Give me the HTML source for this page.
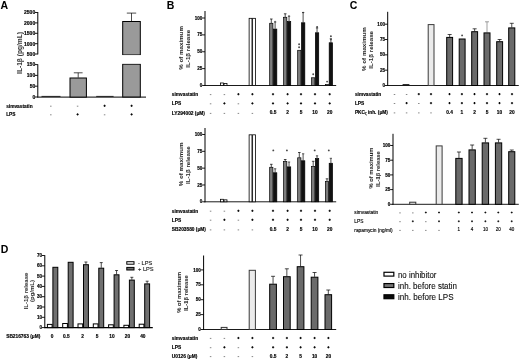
<!DOCTYPE html>
<html><head><meta charset="utf-8"><title>Figure</title>
<style>
html,body{margin:0;padding:0;background:#fff;}
body{width:520px;height:360px;overflow:hidden;font-family:'Liberation Sans', sans-serif;}
svg{display:block;font-family:"Liberation Sans",sans-serif;filter:blur(0.3px);-webkit-font-smoothing:antialiased;}
</style></head><body>
<svg width="520" height="360" viewBox="0 0 520 360">
<rect width="520" height="360" fill="#fff"/>
<text x="0.60" y="8.60" font-size="10.5" font-weight="bold" text-anchor="start" fill="#000" stroke="#000" stroke-width="0.04">A</text>
<text x="166.80" y="8.60" font-size="10.5" font-weight="bold" text-anchor="start" fill="#000" stroke="#000" stroke-width="0.04">B</text>
<text x="349.80" y="8.60" font-size="10.5" font-weight="bold" text-anchor="start" fill="#000" stroke="#000" stroke-width="0.04">C</text>
<text x="0.80" y="252.80" font-size="10.5" font-weight="bold" text-anchor="start" fill="#000" stroke="#000" stroke-width="0.04">D</text>
<line x1="37.80" y1="12.00" x2="37.80" y2="54.40" stroke="#000" stroke-width="1.0"/>
<line x1="35.00" y1="12.50" x2="37.80" y2="12.50" stroke="#000" stroke-width="0.9"/>
<text x="35.20" y="14.30" font-size="5.0" font-weight="bold" text-anchor="end" fill="#000" stroke="#000" stroke-width="0.15">2500</text>
<line x1="35.00" y1="22.90" x2="37.80" y2="22.90" stroke="#000" stroke-width="0.9"/>
<text x="35.20" y="24.70" font-size="5.0" font-weight="bold" text-anchor="end" fill="#000" stroke="#000" stroke-width="0.15">2000</text>
<line x1="35.00" y1="33.30" x2="37.80" y2="33.30" stroke="#000" stroke-width="0.9"/>
<text x="35.20" y="35.10" font-size="5.0" font-weight="bold" text-anchor="end" fill="#000" stroke="#000" stroke-width="0.15">1500</text>
<line x1="35.00" y1="43.70" x2="37.80" y2="43.70" stroke="#000" stroke-width="0.9"/>
<text x="35.20" y="45.50" font-size="5.0" font-weight="bold" text-anchor="end" fill="#000" stroke="#000" stroke-width="0.15">1000</text>
<line x1="35.00" y1="54.00" x2="37.80" y2="54.00" stroke="#000" stroke-width="0.9"/>
<text x="35.20" y="55.80" font-size="5.0" font-weight="bold" text-anchor="end" fill="#000" stroke="#000" stroke-width="0.15">500</text>
<line x1="37.80" y1="64.30" x2="37.80" y2="97.40" stroke="#000" stroke-width="1.0"/>
<line x1="35.00" y1="64.60" x2="37.80" y2="64.60" stroke="#000" stroke-width="0.9"/>
<text x="35.20" y="66.40" font-size="5.0" font-weight="bold" text-anchor="end" fill="#000" stroke="#000" stroke-width="0.15">150</text>
<line x1="35.00" y1="75.40" x2="37.80" y2="75.40" stroke="#000" stroke-width="0.9"/>
<text x="35.20" y="77.20" font-size="5.0" font-weight="bold" text-anchor="end" fill="#000" stroke="#000" stroke-width="0.15">100</text>
<line x1="35.00" y1="86.20" x2="37.80" y2="86.20" stroke="#000" stroke-width="0.9"/>
<text x="35.20" y="88.00" font-size="5.0" font-weight="bold" text-anchor="end" fill="#000" stroke="#000" stroke-width="0.15">50</text>
<line x1="35.00" y1="97.00" x2="37.80" y2="97.00" stroke="#000" stroke-width="0.9"/>
<text x="35.20" y="98.80" font-size="5.0" font-weight="bold" text-anchor="end" fill="#000" stroke="#000" stroke-width="0.15">0</text>
<line x1="37.30" y1="97.10" x2="146.00" y2="97.10" stroke="#000" stroke-width="1.0"/>
<line x1="41.50" y1="96.40" x2="60.50" y2="96.40" stroke="#000" stroke-width="0.8"/>
<line x1="78.20" y1="77.60" x2="78.20" y2="72.80" stroke="#000" stroke-width="0.7"/>
<line x1="73.80" y1="72.80" x2="82.60" y2="72.80" stroke="#000" stroke-width="0.7"/>
<rect x="70.00" y="78.00" width="16.40" height="19.10" fill="#9a9a9a" stroke="#000" stroke-width="1.0"/>
<line x1="96.20" y1="96.40" x2="113.60" y2="96.40" stroke="#000" stroke-width="0.8"/>
<line x1="131.50" y1="21.00" x2="131.50" y2="13.10" stroke="#000" stroke-width="0.7"/>
<line x1="126.80" y1="13.10" x2="136.20" y2="13.10" stroke="#000" stroke-width="0.7"/>
<rect x="122.70" y="21.50" width="17.60" height="33.50" fill="#9a9a9a" stroke="#000" stroke-width="1.0"/>
<rect x="122.70" y="64.20" width="17.60" height="32.80" fill="#9a9a9a" stroke="#000" stroke-width="1.0"/>
<rect x="121.5" y="55.1" width="20" height="8.5" fill="#fff"/>
<text x="21.60" y="53.00" font-size="6.6" font-weight="bold" text-anchor="middle" fill="#3a3a3a" stroke="#3a3a3a" stroke-width="0.04" transform="rotate(-90 21.60 53.00)">IL-1β (pg/mL)</text>
<text x="6.20" y="107.50" font-size="4.8" font-weight="bold" text-anchor="start" fill="#000" stroke="#000" stroke-width="0.15">simvastatin</text>
<line x1="50.05" y1="106.20" x2="51.55" y2="106.20" stroke="#555" stroke-width="0.7"/>
<line x1="76.85" y1="106.20" x2="78.35" y2="106.20" stroke="#555" stroke-width="0.7"/>
<line x1="103.50" y1="105.80" x2="105.70" y2="105.80" stroke="#000" stroke-width="0.95"/>
<line x1="104.60" y1="104.70" x2="104.60" y2="106.90" stroke="#000" stroke-width="0.95"/>
<line x1="130.50" y1="105.80" x2="132.70" y2="105.80" stroke="#000" stroke-width="0.95"/>
<line x1="131.60" y1="104.70" x2="131.60" y2="106.90" stroke="#000" stroke-width="0.95"/>
<text x="6.20" y="116.10" font-size="4.8" font-weight="bold" text-anchor="start" fill="#000" stroke="#000" stroke-width="0.15">LPS</text>
<line x1="50.05" y1="114.80" x2="51.55" y2="114.80" stroke="#555" stroke-width="0.7"/>
<line x1="76.50" y1="114.40" x2="78.70" y2="114.40" stroke="#000" stroke-width="0.95"/>
<line x1="77.60" y1="113.30" x2="77.60" y2="115.50" stroke="#000" stroke-width="0.95"/>
<line x1="103.85" y1="114.80" x2="105.35" y2="114.80" stroke="#555" stroke-width="0.7"/>
<line x1="130.50" y1="114.40" x2="132.70" y2="114.40" stroke="#000" stroke-width="0.95"/>
<line x1="131.60" y1="113.30" x2="131.60" y2="115.50" stroke="#000" stroke-width="0.95"/>
<line x1="205.00" y1="11.00" x2="205.00" y2="86.00" stroke="#000" stroke-width="1.0"/>
<line x1="202.20" y1="18.00" x2="205.00" y2="18.00" stroke="#000" stroke-width="0.9"/>
<text x="202.30" y="19.60" font-size="4.6" font-weight="bold" text-anchor="end" fill="#000" stroke="#000" stroke-width="0.15">100</text>
<line x1="202.20" y1="34.88" x2="205.00" y2="34.88" stroke="#000" stroke-width="0.9"/>
<text x="202.30" y="36.48" font-size="4.6" font-weight="bold" text-anchor="end" fill="#000" stroke="#000" stroke-width="0.15">75</text>
<line x1="202.20" y1="51.75" x2="205.00" y2="51.75" stroke="#000" stroke-width="0.9"/>
<text x="202.30" y="53.35" font-size="4.6" font-weight="bold" text-anchor="end" fill="#000" stroke="#000" stroke-width="0.15">50</text>
<line x1="202.20" y1="68.62" x2="205.00" y2="68.62" stroke="#000" stroke-width="0.9"/>
<text x="202.30" y="70.22" font-size="4.6" font-weight="bold" text-anchor="end" fill="#000" stroke="#000" stroke-width="0.15">25</text>
<line x1="202.20" y1="85.50" x2="205.00" y2="85.50" stroke="#000" stroke-width="0.9"/>
<text x="202.30" y="87.10" font-size="4.6" font-weight="bold" text-anchor="end" fill="#000" stroke="#000" stroke-width="0.15">0</text>
<line x1="204.60" y1="85.50" x2="336.20" y2="85.50" stroke="#000" stroke-width="0.9"/>
<rect x="220.52" y="82.98" width="2.86" height="2.52" fill="#fff" stroke="#000" stroke-width="0.8"/>
<rect x="224.02" y="83.52" width="2.96" height="1.98" fill="#fff" stroke="#000" stroke-width="0.8"/>
<rect x="249.12" y="18.32" width="2.86" height="67.18" fill="#fff" stroke="#000" stroke-width="0.8"/>
<rect x="252.62" y="18.32" width="2.86" height="67.18" fill="#fff" stroke="#000" stroke-width="0.8"/>
<line x1="271.30" y1="23.00" x2="271.30" y2="19.00" stroke="#000" stroke-width="0.7"/>
<line x1="270.00" y1="19.00" x2="272.60" y2="19.00" stroke="#000" stroke-width="0.7"/>
<rect x="269.68" y="23.28" width="3.24" height="62.22" fill="#7d7d7d" stroke="#000" stroke-width="0.7"/>
<line x1="275.15" y1="28.80" x2="275.15" y2="22.00" stroke="#8a8a8a" stroke-width="1.5"/>
<line x1="274.00" y1="22.00" x2="276.30" y2="22.00" stroke="#333" stroke-width="0.8"/>
<rect x="273.48" y="29.08" width="3.34" height="56.42" fill="#111" stroke="#000" stroke-width="0.7"/>
<line x1="285.20" y1="17.00" x2="285.20" y2="13.80" stroke="#000" stroke-width="0.7"/>
<line x1="283.90" y1="13.80" x2="286.50" y2="13.80" stroke="#000" stroke-width="0.7"/>
<rect x="283.58" y="17.28" width="3.24" height="68.22" fill="#7d7d7d" stroke="#000" stroke-width="0.7"/>
<line x1="289.05" y1="21.30" x2="289.05" y2="16.30" stroke="#8a8a8a" stroke-width="1.5"/>
<line x1="287.90" y1="16.30" x2="290.20" y2="16.30" stroke="#333" stroke-width="0.8"/>
<rect x="287.38" y="21.58" width="3.34" height="63.92" fill="#111" stroke="#000" stroke-width="0.7"/>
<rect x="297.68" y="50.28" width="3.24" height="35.22" fill="#7d7d7d" stroke="#000" stroke-width="0.7"/>
<line x1="303.15" y1="22.50" x2="303.15" y2="12.50" stroke="#8a8a8a" stroke-width="1.5"/>
<line x1="302.00" y1="12.50" x2="304.30" y2="12.50" stroke="#333" stroke-width="0.8"/>
<rect x="301.48" y="22.78" width="3.34" height="62.72" fill="#111" stroke="#000" stroke-width="0.7"/>
<rect x="311.58" y="77.78" width="3.24" height="7.72" fill="#7d7d7d" stroke="#000" stroke-width="0.7"/>
<line x1="317.05" y1="32.50" x2="317.05" y2="28.00" stroke="#8a8a8a" stroke-width="1.5"/>
<line x1="315.90" y1="28.00" x2="318.20" y2="28.00" stroke="#333" stroke-width="0.8"/>
<rect x="315.38" y="32.78" width="3.34" height="52.72" fill="#111" stroke="#000" stroke-width="0.7"/>
<rect x="325.38" y="84.58" width="3.24" height="0.92" fill="#7d7d7d" stroke="#000" stroke-width="0.7"/>
<line x1="330.85" y1="42.50" x2="330.85" y2="38.80" stroke="#8a8a8a" stroke-width="1.5"/>
<line x1="329.70" y1="38.80" x2="332.00" y2="38.80" stroke="#333" stroke-width="0.8"/>
<rect x="329.18" y="42.78" width="3.34" height="42.72" fill="#111" stroke="#000" stroke-width="0.7"/>
<circle cx="299.10" cy="44.20" r="0.95" fill="#4a4a4a"/>
<circle cx="299.10" cy="47.30" r="0.95" fill="#4a4a4a"/>
<circle cx="313.20" cy="74.20" r="0.95" fill="#4a4a4a"/>
<circle cx="327.10" cy="81.60" r="0.95" fill="#4a4a4a"/>
<circle cx="303.10" cy="12.60" r="0.8" fill="#333"/>
<circle cx="317.10" cy="27.00" r="0.9" fill="#333"/>
<circle cx="330.90" cy="36.30" r="0.95" fill="#4a4a4a"/>
<circle cx="330.90" cy="39.40" r="0.95" fill="#4a4a4a"/>
<circle cx="275.10" cy="21.60" r="0.8" fill="#555"/>
<circle cx="289.00" cy="16.00" r="0.8" fill="#555"/>
<text x="182.90" y="47.95" font-size="6.2" font-weight="bold" text-anchor="middle" fill="#2a2a2a" stroke="#2a2a2a" stroke-width="0.04" transform="rotate(-90 182.90 47.95)">% of maximum</text>
<text x="190.00" y="48.75" font-size="6.2" font-weight="bold" text-anchor="middle" fill="#2a2a2a" stroke="#2a2a2a" stroke-width="0.04" transform="rotate(-90 190.00 48.75)">IL-1β release</text>
<text x="171.80" y="95.90" font-size="4.8" font-weight="bold" text-anchor="start" fill="#000" stroke="#000" stroke-width="0.15">simvastatin</text>
<line x1="209.85" y1="94.60" x2="211.35" y2="94.60" stroke="#555" stroke-width="0.7"/>
<line x1="223.65" y1="94.60" x2="225.15" y2="94.60" stroke="#555" stroke-width="0.7"/>
<line x1="237.30" y1="94.20" x2="239.50" y2="94.20" stroke="#000" stroke-width="0.95"/>
<line x1="238.40" y1="93.10" x2="238.40" y2="95.30" stroke="#000" stroke-width="0.95"/>
<line x1="251.30" y1="94.20" x2="253.50" y2="94.20" stroke="#000" stroke-width="0.95"/>
<line x1="252.40" y1="93.10" x2="252.40" y2="95.30" stroke="#000" stroke-width="0.95"/>
<line x1="271.90" y1="94.20" x2="274.10" y2="94.20" stroke="#000" stroke-width="0.95"/>
<line x1="273.00" y1="93.10" x2="273.00" y2="95.30" stroke="#000" stroke-width="0.95"/>
<line x1="286.50" y1="94.20" x2="288.70" y2="94.20" stroke="#000" stroke-width="0.95"/>
<line x1="287.60" y1="93.10" x2="287.60" y2="95.30" stroke="#000" stroke-width="0.95"/>
<line x1="299.90" y1="94.20" x2="302.10" y2="94.20" stroke="#000" stroke-width="0.95"/>
<line x1="301.00" y1="93.10" x2="301.00" y2="95.30" stroke="#000" stroke-width="0.95"/>
<line x1="313.90" y1="94.20" x2="316.10" y2="94.20" stroke="#000" stroke-width="0.95"/>
<line x1="315.00" y1="93.10" x2="315.00" y2="95.30" stroke="#000" stroke-width="0.95"/>
<line x1="328.60" y1="94.20" x2="330.80" y2="94.20" stroke="#000" stroke-width="0.95"/>
<line x1="329.70" y1="93.10" x2="329.70" y2="95.30" stroke="#000" stroke-width="0.95"/>
<text x="171.80" y="105.10" font-size="4.8" font-weight="bold" text-anchor="start" fill="#000" stroke="#000" stroke-width="0.15">LPS</text>
<line x1="209.85" y1="103.80" x2="211.35" y2="103.80" stroke="#555" stroke-width="0.7"/>
<line x1="223.30" y1="103.40" x2="225.50" y2="103.40" stroke="#000" stroke-width="0.95"/>
<line x1="224.40" y1="102.30" x2="224.40" y2="104.50" stroke="#000" stroke-width="0.95"/>
<line x1="237.65" y1="103.80" x2="239.15" y2="103.80" stroke="#555" stroke-width="0.7"/>
<line x1="251.30" y1="103.40" x2="253.50" y2="103.40" stroke="#000" stroke-width="0.95"/>
<line x1="252.40" y1="102.30" x2="252.40" y2="104.50" stroke="#000" stroke-width="0.95"/>
<line x1="271.90" y1="103.40" x2="274.10" y2="103.40" stroke="#000" stroke-width="0.95"/>
<line x1="273.00" y1="102.30" x2="273.00" y2="104.50" stroke="#000" stroke-width="0.95"/>
<line x1="286.50" y1="103.40" x2="288.70" y2="103.40" stroke="#000" stroke-width="0.95"/>
<line x1="287.60" y1="102.30" x2="287.60" y2="104.50" stroke="#000" stroke-width="0.95"/>
<line x1="299.90" y1="103.40" x2="302.10" y2="103.40" stroke="#000" stroke-width="0.95"/>
<line x1="301.00" y1="102.30" x2="301.00" y2="104.50" stroke="#000" stroke-width="0.95"/>
<line x1="313.90" y1="103.40" x2="316.10" y2="103.40" stroke="#000" stroke-width="0.95"/>
<line x1="315.00" y1="102.30" x2="315.00" y2="104.50" stroke="#000" stroke-width="0.95"/>
<line x1="328.60" y1="103.40" x2="330.80" y2="103.40" stroke="#000" stroke-width="0.95"/>
<line x1="329.70" y1="102.30" x2="329.70" y2="104.50" stroke="#000" stroke-width="0.95"/>
<text x="171.80" y="114.70" font-size="4.8" font-weight="bold" text-anchor="start" fill="#000" stroke="#000" stroke-width="0.15">LY294002 (μM)</text>
<line x1="209.85" y1="113.40" x2="211.35" y2="113.40" stroke="#555" stroke-width="0.7"/>
<line x1="223.65" y1="113.40" x2="225.15" y2="113.40" stroke="#555" stroke-width="0.7"/>
<line x1="237.65" y1="113.40" x2="239.15" y2="113.40" stroke="#555" stroke-width="0.7"/>
<line x1="251.65" y1="113.40" x2="253.15" y2="113.40" stroke="#555" stroke-width="0.7"/>
<text x="273.00" y="114.20" font-size="4.8" font-weight="bold" text-anchor="middle" fill="#000" stroke="#000" stroke-width="0.15">0.5</text>
<text x="287.60" y="114.20" font-size="4.8" font-weight="bold" text-anchor="middle" fill="#000" stroke="#000" stroke-width="0.15">2</text>
<text x="301.00" y="114.20" font-size="4.8" font-weight="bold" text-anchor="middle" fill="#000" stroke="#000" stroke-width="0.15">5</text>
<text x="315.00" y="114.20" font-size="4.8" font-weight="bold" text-anchor="middle" fill="#000" stroke="#000" stroke-width="0.15">10</text>
<text x="329.70" y="114.20" font-size="4.8" font-weight="bold" text-anchor="middle" fill="#000" stroke="#000" stroke-width="0.15">20</text>
<line x1="205.00" y1="128.00" x2="205.00" y2="202.30" stroke="#000" stroke-width="1.0"/>
<line x1="202.20" y1="134.50" x2="205.00" y2="134.50" stroke="#000" stroke-width="0.9"/>
<text x="202.30" y="136.10" font-size="4.6" font-weight="bold" text-anchor="end" fill="#000" stroke="#000" stroke-width="0.15">100</text>
<line x1="202.20" y1="151.32" x2="205.00" y2="151.32" stroke="#000" stroke-width="0.9"/>
<text x="202.30" y="152.92" font-size="4.6" font-weight="bold" text-anchor="end" fill="#000" stroke="#000" stroke-width="0.15">75</text>
<line x1="202.20" y1="168.15" x2="205.00" y2="168.15" stroke="#000" stroke-width="0.9"/>
<text x="202.30" y="169.75" font-size="4.6" font-weight="bold" text-anchor="end" fill="#000" stroke="#000" stroke-width="0.15">50</text>
<line x1="202.20" y1="184.98" x2="205.00" y2="184.98" stroke="#000" stroke-width="0.9"/>
<text x="202.30" y="186.58" font-size="4.6" font-weight="bold" text-anchor="end" fill="#000" stroke="#000" stroke-width="0.15">25</text>
<line x1="202.20" y1="201.80" x2="205.00" y2="201.80" stroke="#000" stroke-width="0.9"/>
<text x="202.30" y="203.40" font-size="4.6" font-weight="bold" text-anchor="end" fill="#000" stroke="#000" stroke-width="0.15">0</text>
<line x1="204.60" y1="201.80" x2="336.20" y2="201.80" stroke="#000" stroke-width="0.9"/>
<rect x="220.52" y="199.29" width="2.86" height="2.51" fill="#fff" stroke="#000" stroke-width="0.8"/>
<rect x="224.02" y="199.83" width="2.96" height="1.97" fill="#fff" stroke="#000" stroke-width="0.8"/>
<rect x="249.12" y="134.82" width="2.86" height="66.98" fill="#fff" stroke="#000" stroke-width="0.8"/>
<rect x="252.62" y="134.82" width="2.86" height="66.98" fill="#fff" stroke="#000" stroke-width="0.8"/>
<line x1="271.30" y1="167.00" x2="271.30" y2="164.30" stroke="#000" stroke-width="0.7"/>
<line x1="270.00" y1="164.30" x2="272.60" y2="164.30" stroke="#000" stroke-width="0.7"/>
<rect x="269.68" y="167.28" width="3.24" height="34.52" fill="#7d7d7d" stroke="#000" stroke-width="0.7"/>
<line x1="275.15" y1="172.50" x2="275.15" y2="168.80" stroke="#8a8a8a" stroke-width="1.5"/>
<line x1="274.00" y1="168.80" x2="276.30" y2="168.80" stroke="#333" stroke-width="0.8"/>
<rect x="273.48" y="172.78" width="3.34" height="29.02" fill="#111" stroke="#000" stroke-width="0.7"/>
<line x1="285.20" y1="161.30" x2="285.20" y2="159.50" stroke="#000" stroke-width="0.7"/>
<line x1="283.90" y1="159.50" x2="286.50" y2="159.50" stroke="#000" stroke-width="0.7"/>
<rect x="283.58" y="161.58" width="3.24" height="40.22" fill="#7d7d7d" stroke="#000" stroke-width="0.7"/>
<line x1="289.05" y1="166.60" x2="289.05" y2="162.00" stroke="#8a8a8a" stroke-width="1.5"/>
<line x1="287.90" y1="162.00" x2="290.20" y2="162.00" stroke="#333" stroke-width="0.8"/>
<rect x="287.38" y="166.88" width="3.34" height="34.92" fill="#111" stroke="#000" stroke-width="0.7"/>
<line x1="299.30" y1="157.50" x2="299.30" y2="152.50" stroke="#000" stroke-width="0.7"/>
<line x1="298.00" y1="152.50" x2="300.60" y2="152.50" stroke="#000" stroke-width="0.7"/>
<rect x="297.68" y="157.78" width="3.24" height="44.02" fill="#7d7d7d" stroke="#000" stroke-width="0.7"/>
<line x1="303.15" y1="160.50" x2="303.15" y2="153.80" stroke="#8a8a8a" stroke-width="1.5"/>
<line x1="302.00" y1="153.80" x2="304.30" y2="153.80" stroke="#333" stroke-width="0.8"/>
<rect x="301.48" y="160.78" width="3.34" height="41.02" fill="#111" stroke="#000" stroke-width="0.7"/>
<line x1="313.20" y1="166.30" x2="313.20" y2="161.30" stroke="#000" stroke-width="0.7"/>
<line x1="311.90" y1="161.30" x2="314.50" y2="161.30" stroke="#000" stroke-width="0.7"/>
<rect x="311.58" y="166.58" width="3.24" height="35.22" fill="#7d7d7d" stroke="#000" stroke-width="0.7"/>
<line x1="317.05" y1="158.30" x2="317.05" y2="155.80" stroke="#8a8a8a" stroke-width="1.5"/>
<line x1="315.90" y1="155.80" x2="318.20" y2="155.80" stroke="#333" stroke-width="0.8"/>
<rect x="315.38" y="158.58" width="3.34" height="43.22" fill="#111" stroke="#000" stroke-width="0.7"/>
<line x1="327.00" y1="181.30" x2="327.00" y2="178.80" stroke="#000" stroke-width="0.7"/>
<line x1="325.70" y1="178.80" x2="328.30" y2="178.80" stroke="#000" stroke-width="0.7"/>
<rect x="325.38" y="181.58" width="3.24" height="20.22" fill="#7d7d7d" stroke="#000" stroke-width="0.7"/>
<line x1="330.85" y1="163.00" x2="330.85" y2="158.30" stroke="#8a8a8a" stroke-width="1.5"/>
<line x1="329.70" y1="158.30" x2="332.00" y2="158.30" stroke="#333" stroke-width="0.8"/>
<rect x="329.18" y="163.28" width="3.34" height="38.52" fill="#111" stroke="#000" stroke-width="0.7"/>
<circle cx="273.30" cy="150.40" r="0.95" fill="#4a4a4a"/>
<circle cx="286.90" cy="150.40" r="0.95" fill="#4a4a4a"/>
<circle cx="314.70" cy="150.40" r="0.95" fill="#4a4a4a"/>
<circle cx="328.80" cy="150.40" r="0.95" fill="#4a4a4a"/>
<text x="182.90" y="164.35" font-size="6.2" font-weight="bold" text-anchor="middle" fill="#2a2a2a" stroke="#2a2a2a" stroke-width="0.04" transform="rotate(-90 182.90 164.35)">% of maximum</text>
<text x="190.00" y="165.15" font-size="6.2" font-weight="bold" text-anchor="middle" fill="#2a2a2a" stroke="#2a2a2a" stroke-width="0.04" transform="rotate(-90 190.00 165.15)">IL-1β release</text>
<text x="171.80" y="212.50" font-size="4.8" font-weight="bold" text-anchor="start" fill="#000" stroke="#000" stroke-width="0.15">simvastatin</text>
<line x1="209.85" y1="211.20" x2="211.35" y2="211.20" stroke="#555" stroke-width="0.7"/>
<line x1="223.65" y1="211.20" x2="225.15" y2="211.20" stroke="#555" stroke-width="0.7"/>
<line x1="237.30" y1="210.80" x2="239.50" y2="210.80" stroke="#000" stroke-width="0.95"/>
<line x1="238.40" y1="209.70" x2="238.40" y2="211.90" stroke="#000" stroke-width="0.95"/>
<line x1="251.30" y1="210.80" x2="253.50" y2="210.80" stroke="#000" stroke-width="0.95"/>
<line x1="252.40" y1="209.70" x2="252.40" y2="211.90" stroke="#000" stroke-width="0.95"/>
<line x1="271.90" y1="210.80" x2="274.10" y2="210.80" stroke="#000" stroke-width="0.95"/>
<line x1="273.00" y1="209.70" x2="273.00" y2="211.90" stroke="#000" stroke-width="0.95"/>
<line x1="286.50" y1="210.80" x2="288.70" y2="210.80" stroke="#000" stroke-width="0.95"/>
<line x1="287.60" y1="209.70" x2="287.60" y2="211.90" stroke="#000" stroke-width="0.95"/>
<line x1="299.90" y1="210.80" x2="302.10" y2="210.80" stroke="#000" stroke-width="0.95"/>
<line x1="301.00" y1="209.70" x2="301.00" y2="211.90" stroke="#000" stroke-width="0.95"/>
<line x1="313.90" y1="210.80" x2="316.10" y2="210.80" stroke="#000" stroke-width="0.95"/>
<line x1="315.00" y1="209.70" x2="315.00" y2="211.90" stroke="#000" stroke-width="0.95"/>
<line x1="328.60" y1="210.80" x2="330.80" y2="210.80" stroke="#000" stroke-width="0.95"/>
<line x1="329.70" y1="209.70" x2="329.70" y2="211.90" stroke="#000" stroke-width="0.95"/>
<text x="171.80" y="221.50" font-size="4.8" font-weight="bold" text-anchor="start" fill="#000" stroke="#000" stroke-width="0.15">LPS</text>
<line x1="209.85" y1="220.20" x2="211.35" y2="220.20" stroke="#555" stroke-width="0.7"/>
<line x1="223.30" y1="219.80" x2="225.50" y2="219.80" stroke="#000" stroke-width="0.95"/>
<line x1="224.40" y1="218.70" x2="224.40" y2="220.90" stroke="#000" stroke-width="0.95"/>
<line x1="237.65" y1="220.20" x2="239.15" y2="220.20" stroke="#555" stroke-width="0.7"/>
<line x1="251.30" y1="219.80" x2="253.50" y2="219.80" stroke="#000" stroke-width="0.95"/>
<line x1="252.40" y1="218.70" x2="252.40" y2="220.90" stroke="#000" stroke-width="0.95"/>
<line x1="271.90" y1="219.80" x2="274.10" y2="219.80" stroke="#000" stroke-width="0.95"/>
<line x1="273.00" y1="218.70" x2="273.00" y2="220.90" stroke="#000" stroke-width="0.95"/>
<line x1="286.50" y1="219.80" x2="288.70" y2="219.80" stroke="#000" stroke-width="0.95"/>
<line x1="287.60" y1="218.70" x2="287.60" y2="220.90" stroke="#000" stroke-width="0.95"/>
<line x1="299.90" y1="219.80" x2="302.10" y2="219.80" stroke="#000" stroke-width="0.95"/>
<line x1="301.00" y1="218.70" x2="301.00" y2="220.90" stroke="#000" stroke-width="0.95"/>
<line x1="313.90" y1="219.80" x2="316.10" y2="219.80" stroke="#000" stroke-width="0.95"/>
<line x1="315.00" y1="218.70" x2="315.00" y2="220.90" stroke="#000" stroke-width="0.95"/>
<line x1="328.60" y1="219.80" x2="330.80" y2="219.80" stroke="#000" stroke-width="0.95"/>
<line x1="329.70" y1="218.70" x2="329.70" y2="220.90" stroke="#000" stroke-width="0.95"/>
<text x="171.80" y="231.20" font-size="4.8" font-weight="bold" text-anchor="start" fill="#000" stroke="#000" stroke-width="0.15">SB203580 (μM)</text>
<line x1="209.85" y1="229.90" x2="211.35" y2="229.90" stroke="#555" stroke-width="0.7"/>
<line x1="223.65" y1="229.90" x2="225.15" y2="229.90" stroke="#555" stroke-width="0.7"/>
<line x1="237.65" y1="229.90" x2="239.15" y2="229.90" stroke="#555" stroke-width="0.7"/>
<line x1="251.65" y1="229.90" x2="253.15" y2="229.90" stroke="#555" stroke-width="0.7"/>
<text x="273.00" y="230.70" font-size="4.8" font-weight="bold" text-anchor="middle" fill="#000" stroke="#000" stroke-width="0.15">0.5</text>
<text x="287.60" y="230.70" font-size="4.8" font-weight="bold" text-anchor="middle" fill="#000" stroke="#000" stroke-width="0.15">2</text>
<text x="301.00" y="230.70" font-size="4.8" font-weight="bold" text-anchor="middle" fill="#000" stroke="#000" stroke-width="0.15">5</text>
<text x="315.00" y="230.70" font-size="4.8" font-weight="bold" text-anchor="middle" fill="#000" stroke="#000" stroke-width="0.15">10</text>
<text x="329.70" y="230.70" font-size="4.8" font-weight="bold" text-anchor="middle" fill="#000" stroke="#000" stroke-width="0.15">20</text>
<line x1="203.60" y1="255.50" x2="203.60" y2="330.00" stroke="#000" stroke-width="1.0"/>
<line x1="200.80" y1="269.90" x2="203.60" y2="269.90" stroke="#000" stroke-width="0.9"/>
<text x="200.90" y="271.50" font-size="4.6" font-weight="bold" text-anchor="end" fill="#000" stroke="#000" stroke-width="0.15">100</text>
<line x1="200.80" y1="284.80" x2="203.60" y2="284.80" stroke="#000" stroke-width="0.9"/>
<text x="200.90" y="286.40" font-size="4.6" font-weight="bold" text-anchor="end" fill="#000" stroke="#000" stroke-width="0.15">75</text>
<line x1="200.80" y1="299.70" x2="203.60" y2="299.70" stroke="#000" stroke-width="0.9"/>
<text x="200.90" y="301.30" font-size="4.6" font-weight="bold" text-anchor="end" fill="#000" stroke="#000" stroke-width="0.15">50</text>
<line x1="200.80" y1="314.60" x2="203.60" y2="314.60" stroke="#000" stroke-width="0.9"/>
<text x="200.90" y="316.20" font-size="4.6" font-weight="bold" text-anchor="end" fill="#000" stroke="#000" stroke-width="0.15">25</text>
<line x1="200.80" y1="329.50" x2="203.60" y2="329.50" stroke="#000" stroke-width="0.9"/>
<text x="200.90" y="331.10" font-size="4.6" font-weight="bold" text-anchor="end" fill="#000" stroke="#000" stroke-width="0.15">0</text>
<line x1="203.20" y1="329.50" x2="336.20" y2="329.50" stroke="#000" stroke-width="0.9"/>
<rect x="221.20" y="327.40" width="5.80" height="2.10" fill="#ececec" stroke="#333" stroke-width="1.0"/>
<rect x="249.20" y="270.30" width="6.20" height="59.20" fill="#ebebeb" stroke="#3a3a3a" stroke-width="1.0"/>
<line x1="273.05" y1="283.80" x2="273.05" y2="276.30" stroke="#000" stroke-width="0.7"/>
<line x1="271.05" y1="276.30" x2="275.05" y2="276.30" stroke="#000" stroke-width="0.7"/>
<rect x="269.70" y="284.20" width="6.70" height="45.30" fill="#6a6a6a" stroke="#000" stroke-width="1.0"/>
<line x1="286.85" y1="276.30" x2="286.85" y2="268.80" stroke="#000" stroke-width="0.7"/>
<line x1="284.85" y1="268.80" x2="288.85" y2="268.80" stroke="#000" stroke-width="0.7"/>
<rect x="283.50" y="276.70" width="6.70" height="52.80" fill="#6a6a6a" stroke="#000" stroke-width="1.0"/>
<line x1="300.55" y1="266.30" x2="300.55" y2="255.00" stroke="#000" stroke-width="0.7"/>
<line x1="298.55" y1="255.00" x2="302.55" y2="255.00" stroke="#000" stroke-width="0.7"/>
<rect x="297.20" y="266.70" width="6.70" height="62.80" fill="#6a6a6a" stroke="#000" stroke-width="1.0"/>
<line x1="314.55" y1="276.80" x2="314.55" y2="272.50" stroke="#000" stroke-width="0.7"/>
<line x1="312.55" y1="272.50" x2="316.55" y2="272.50" stroke="#000" stroke-width="0.7"/>
<rect x="311.20" y="277.20" width="6.70" height="52.30" fill="#6a6a6a" stroke="#000" stroke-width="1.0"/>
<line x1="328.30" y1="294.30" x2="328.30" y2="290.00" stroke="#000" stroke-width="0.7"/>
<line x1="326.30" y1="290.00" x2="330.30" y2="290.00" stroke="#000" stroke-width="0.7"/>
<rect x="325.00" y="294.70" width="6.60" height="34.80" fill="#6a6a6a" stroke="#000" stroke-width="1.0"/>
<text x="181.40" y="292.30" font-size="5.8" font-weight="bold" text-anchor="middle" fill="#2a2a2a" stroke="#2a2a2a" stroke-width="0.04" transform="rotate(-90 181.40 292.30)">% of maximum</text>
<text x="188.50" y="293.10" font-size="5.8" font-weight="bold" text-anchor="middle" fill="#2a2a2a" stroke="#2a2a2a" stroke-width="0.04" transform="rotate(-90 188.50 293.10)">IL-1β release</text>
<text x="171.80" y="339.70" font-size="4.8" font-weight="bold" text-anchor="start" fill="#000" stroke="#000" stroke-width="0.15">simvastatin</text>
<line x1="209.85" y1="338.40" x2="211.35" y2="338.40" stroke="#555" stroke-width="0.7"/>
<line x1="223.65" y1="338.40" x2="225.15" y2="338.40" stroke="#555" stroke-width="0.7"/>
<line x1="237.30" y1="338.00" x2="239.50" y2="338.00" stroke="#000" stroke-width="0.95"/>
<line x1="238.40" y1="336.90" x2="238.40" y2="339.10" stroke="#000" stroke-width="0.95"/>
<line x1="251.30" y1="338.00" x2="253.50" y2="338.00" stroke="#000" stroke-width="0.95"/>
<line x1="252.40" y1="336.90" x2="252.40" y2="339.10" stroke="#000" stroke-width="0.95"/>
<line x1="272.00" y1="338.00" x2="274.20" y2="338.00" stroke="#000" stroke-width="0.95"/>
<line x1="273.10" y1="336.90" x2="273.10" y2="339.10" stroke="#000" stroke-width="0.95"/>
<line x1="285.80" y1="338.00" x2="288.00" y2="338.00" stroke="#000" stroke-width="0.95"/>
<line x1="286.90" y1="336.90" x2="286.90" y2="339.10" stroke="#000" stroke-width="0.95"/>
<line x1="299.50" y1="338.00" x2="301.70" y2="338.00" stroke="#000" stroke-width="0.95"/>
<line x1="300.60" y1="336.90" x2="300.60" y2="339.10" stroke="#000" stroke-width="0.95"/>
<line x1="313.50" y1="338.00" x2="315.70" y2="338.00" stroke="#000" stroke-width="0.95"/>
<line x1="314.60" y1="336.90" x2="314.60" y2="339.10" stroke="#000" stroke-width="0.95"/>
<line x1="327.30" y1="338.00" x2="329.50" y2="338.00" stroke="#000" stroke-width="0.95"/>
<line x1="328.40" y1="336.90" x2="328.40" y2="339.10" stroke="#000" stroke-width="0.95"/>
<text x="171.80" y="349.00" font-size="4.8" font-weight="bold" text-anchor="start" fill="#000" stroke="#000" stroke-width="0.15">LPS</text>
<line x1="209.85" y1="347.70" x2="211.35" y2="347.70" stroke="#555" stroke-width="0.7"/>
<line x1="223.30" y1="347.30" x2="225.50" y2="347.30" stroke="#000" stroke-width="0.95"/>
<line x1="224.40" y1="346.20" x2="224.40" y2="348.40" stroke="#000" stroke-width="0.95"/>
<line x1="237.65" y1="347.70" x2="239.15" y2="347.70" stroke="#555" stroke-width="0.7"/>
<line x1="251.30" y1="347.30" x2="253.50" y2="347.30" stroke="#000" stroke-width="0.95"/>
<line x1="252.40" y1="346.20" x2="252.40" y2="348.40" stroke="#000" stroke-width="0.95"/>
<line x1="272.00" y1="347.30" x2="274.20" y2="347.30" stroke="#000" stroke-width="0.95"/>
<line x1="273.10" y1="346.20" x2="273.10" y2="348.40" stroke="#000" stroke-width="0.95"/>
<line x1="285.80" y1="347.30" x2="288.00" y2="347.30" stroke="#000" stroke-width="0.95"/>
<line x1="286.90" y1="346.20" x2="286.90" y2="348.40" stroke="#000" stroke-width="0.95"/>
<line x1="299.50" y1="347.30" x2="301.70" y2="347.30" stroke="#000" stroke-width="0.95"/>
<line x1="300.60" y1="346.20" x2="300.60" y2="348.40" stroke="#000" stroke-width="0.95"/>
<line x1="313.50" y1="347.30" x2="315.70" y2="347.30" stroke="#000" stroke-width="0.95"/>
<line x1="314.60" y1="346.20" x2="314.60" y2="348.40" stroke="#000" stroke-width="0.95"/>
<line x1="327.30" y1="347.30" x2="329.50" y2="347.30" stroke="#000" stroke-width="0.95"/>
<line x1="328.40" y1="346.20" x2="328.40" y2="348.40" stroke="#000" stroke-width="0.95"/>
<text x="171.80" y="357.90" font-size="4.8" font-weight="bold" text-anchor="start" fill="#000" stroke="#000" stroke-width="0.15">U0126 (μM)</text>
<line x1="209.85" y1="356.60" x2="211.35" y2="356.60" stroke="#555" stroke-width="0.7"/>
<line x1="223.65" y1="356.60" x2="225.15" y2="356.60" stroke="#555" stroke-width="0.7"/>
<line x1="237.65" y1="356.60" x2="239.15" y2="356.60" stroke="#555" stroke-width="0.7"/>
<line x1="251.65" y1="356.60" x2="253.15" y2="356.60" stroke="#555" stroke-width="0.7"/>
<text x="273.10" y="357.90" font-size="4.8" font-weight="bold" text-anchor="middle" fill="#000" stroke="#000" stroke-width="0.15">0.5</text>
<text x="286.90" y="357.90" font-size="4.8" font-weight="bold" text-anchor="middle" fill="#000" stroke="#000" stroke-width="0.15">2</text>
<text x="300.60" y="357.90" font-size="4.8" font-weight="bold" text-anchor="middle" fill="#000" stroke="#000" stroke-width="0.15">5</text>
<text x="314.60" y="357.90" font-size="4.8" font-weight="bold" text-anchor="middle" fill="#000" stroke="#000" stroke-width="0.15">10</text>
<text x="328.40" y="357.90" font-size="4.8" font-weight="bold" text-anchor="middle" fill="#000" stroke="#000" stroke-width="0.15">20</text>
<line x1="387.70" y1="11.80" x2="387.70" y2="86.00" stroke="#000" stroke-width="1.0"/>
<line x1="384.90" y1="24.20" x2="387.70" y2="24.20" stroke="#000" stroke-width="0.9"/>
<text x="385.00" y="25.80" font-size="4.6" font-weight="bold" text-anchor="end" fill="#000" stroke="#000" stroke-width="0.15">100</text>
<line x1="384.90" y1="39.52" x2="387.70" y2="39.52" stroke="#000" stroke-width="0.9"/>
<text x="385.00" y="41.12" font-size="4.6" font-weight="bold" text-anchor="end" fill="#000" stroke="#000" stroke-width="0.15">75</text>
<line x1="384.90" y1="54.85" x2="387.70" y2="54.85" stroke="#000" stroke-width="0.9"/>
<text x="385.00" y="56.45" font-size="4.6" font-weight="bold" text-anchor="end" fill="#000" stroke="#000" stroke-width="0.15">50</text>
<line x1="384.90" y1="70.17" x2="387.70" y2="70.17" stroke="#000" stroke-width="0.9"/>
<text x="385.00" y="71.77" font-size="4.6" font-weight="bold" text-anchor="end" fill="#000" stroke="#000" stroke-width="0.15">25</text>
<line x1="384.90" y1="85.50" x2="387.70" y2="85.50" stroke="#000" stroke-width="0.9"/>
<text x="385.00" y="87.10" font-size="4.6" font-weight="bold" text-anchor="end" fill="#000" stroke="#000" stroke-width="0.15">0</text>
<line x1="387.30" y1="85.50" x2="518.80" y2="85.50" stroke="#000" stroke-width="0.9"/>
<line x1="402.60" y1="84.60" x2="409.40" y2="84.60" stroke="#000" stroke-width="0.9"/>
<rect x="428.20" y="24.60" width="5.80" height="60.90" fill="#ebebeb" stroke="#3a3a3a" stroke-width="1.0"/>
<line x1="449.65" y1="37.00" x2="449.65" y2="34.50" stroke="#000" stroke-width="0.7"/>
<line x1="447.65" y1="34.50" x2="451.65" y2="34.50" stroke="#000" stroke-width="0.7"/>
<rect x="446.70" y="37.40" width="5.90" height="48.10" fill="#6a6a6a" stroke="#000" stroke-width="1.0"/>
<rect x="459.20" y="39.00" width="5.90" height="46.50" fill="#6a6a6a" stroke="#000" stroke-width="1.0"/>
<line x1="474.65" y1="31.30" x2="474.65" y2="28.80" stroke="#000" stroke-width="0.7"/>
<line x1="472.65" y1="28.80" x2="476.65" y2="28.80" stroke="#000" stroke-width="0.7"/>
<rect x="471.70" y="31.70" width="5.90" height="53.80" fill="#6a6a6a" stroke="#000" stroke-width="1.0"/>
<line x1="487.00" y1="32.50" x2="487.00" y2="21.80" stroke="#777" stroke-width="0.7"/>
<line x1="485.00" y1="21.80" x2="489.00" y2="21.80" stroke="#777" stroke-width="0.7"/>
<rect x="484.00" y="32.90" width="6.00" height="52.60" fill="#6a6a6a" stroke="#000" stroke-width="1.0"/>
<line x1="499.65" y1="41.30" x2="499.65" y2="39.50" stroke="#000" stroke-width="0.7"/>
<line x1="497.65" y1="39.50" x2="501.65" y2="39.50" stroke="#000" stroke-width="0.7"/>
<rect x="496.70" y="41.70" width="5.90" height="43.80" fill="#6a6a6a" stroke="#000" stroke-width="1.0"/>
<line x1="511.75" y1="27.50" x2="511.75" y2="23.30" stroke="#000" stroke-width="0.7"/>
<line x1="509.75" y1="23.30" x2="513.75" y2="23.30" stroke="#000" stroke-width="0.7"/>
<rect x="508.70" y="27.90" width="6.10" height="57.60" fill="#6a6a6a" stroke="#000" stroke-width="1.0"/>
<circle cx="462.10" cy="35.40" r="0.95" fill="#4a4a4a"/>
<text x="366.40" y="49.05" font-size="6.2" font-weight="bold" text-anchor="middle" fill="#2a2a2a" stroke="#2a2a2a" stroke-width="0.04" transform="rotate(-90 366.40 49.05)">% of maximum</text>
<text x="373.30" y="49.85" font-size="6.2" font-weight="bold" text-anchor="middle" fill="#2a2a2a" stroke="#2a2a2a" stroke-width="0.04" transform="rotate(-90 373.30 49.85)">IL-1β release</text>
<text x="354.90" y="95.80" font-size="4.8" font-weight="bold" text-anchor="start" fill="#000" stroke="#000" stroke-width="0.15">simvastatin</text>
<line x1="393.75" y1="94.50" x2="395.25" y2="94.50" stroke="#555" stroke-width="0.7"/>
<line x1="405.85" y1="94.50" x2="407.35" y2="94.50" stroke="#555" stroke-width="0.7"/>
<line x1="417.70" y1="94.10" x2="419.90" y2="94.10" stroke="#000" stroke-width="0.95"/>
<line x1="418.80" y1="93.00" x2="418.80" y2="95.20" stroke="#000" stroke-width="0.95"/>
<line x1="429.90" y1="94.10" x2="432.10" y2="94.10" stroke="#000" stroke-width="0.95"/>
<line x1="431.00" y1="93.00" x2="431.00" y2="95.20" stroke="#000" stroke-width="0.95"/>
<line x1="448.40" y1="94.10" x2="450.60" y2="94.10" stroke="#000" stroke-width="0.95"/>
<line x1="449.50" y1="93.00" x2="449.50" y2="95.20" stroke="#000" stroke-width="0.95"/>
<line x1="460.80" y1="94.10" x2="463.00" y2="94.10" stroke="#000" stroke-width="0.95"/>
<line x1="461.90" y1="93.00" x2="461.90" y2="95.20" stroke="#000" stroke-width="0.95"/>
<line x1="473.40" y1="94.10" x2="475.60" y2="94.10" stroke="#000" stroke-width="0.95"/>
<line x1="474.50" y1="93.00" x2="474.50" y2="95.20" stroke="#000" stroke-width="0.95"/>
<line x1="485.90" y1="94.10" x2="488.10" y2="94.10" stroke="#000" stroke-width="0.95"/>
<line x1="487.00" y1="93.00" x2="487.00" y2="95.20" stroke="#000" stroke-width="0.95"/>
<line x1="498.40" y1="94.10" x2="500.60" y2="94.10" stroke="#000" stroke-width="0.95"/>
<line x1="499.50" y1="93.00" x2="499.50" y2="95.20" stroke="#000" stroke-width="0.95"/>
<line x1="510.90" y1="94.10" x2="513.10" y2="94.10" stroke="#000" stroke-width="0.95"/>
<line x1="512.00" y1="93.00" x2="512.00" y2="95.20" stroke="#000" stroke-width="0.95"/>
<text x="354.90" y="104.80" font-size="4.8" font-weight="bold" text-anchor="start" fill="#000" stroke="#000" stroke-width="0.15">LPS</text>
<line x1="393.75" y1="103.50" x2="395.25" y2="103.50" stroke="#555" stroke-width="0.7"/>
<line x1="405.50" y1="103.10" x2="407.70" y2="103.10" stroke="#000" stroke-width="0.95"/>
<line x1="406.60" y1="102.00" x2="406.60" y2="104.20" stroke="#000" stroke-width="0.95"/>
<line x1="418.05" y1="103.50" x2="419.55" y2="103.50" stroke="#555" stroke-width="0.7"/>
<line x1="429.90" y1="103.10" x2="432.10" y2="103.10" stroke="#000" stroke-width="0.95"/>
<line x1="431.00" y1="102.00" x2="431.00" y2="104.20" stroke="#000" stroke-width="0.95"/>
<line x1="448.40" y1="103.10" x2="450.60" y2="103.10" stroke="#000" stroke-width="0.95"/>
<line x1="449.50" y1="102.00" x2="449.50" y2="104.20" stroke="#000" stroke-width="0.95"/>
<line x1="460.80" y1="103.10" x2="463.00" y2="103.10" stroke="#000" stroke-width="0.95"/>
<line x1="461.90" y1="102.00" x2="461.90" y2="104.20" stroke="#000" stroke-width="0.95"/>
<line x1="473.40" y1="103.10" x2="475.60" y2="103.10" stroke="#000" stroke-width="0.95"/>
<line x1="474.50" y1="102.00" x2="474.50" y2="104.20" stroke="#000" stroke-width="0.95"/>
<line x1="485.90" y1="103.10" x2="488.10" y2="103.10" stroke="#000" stroke-width="0.95"/>
<line x1="487.00" y1="102.00" x2="487.00" y2="104.20" stroke="#000" stroke-width="0.95"/>
<line x1="498.40" y1="103.10" x2="500.60" y2="103.10" stroke="#000" stroke-width="0.95"/>
<line x1="499.50" y1="102.00" x2="499.50" y2="104.20" stroke="#000" stroke-width="0.95"/>
<line x1="510.90" y1="103.10" x2="513.10" y2="103.10" stroke="#000" stroke-width="0.95"/>
<line x1="512.00" y1="102.00" x2="512.00" y2="104.20" stroke="#000" stroke-width="0.95"/>
<text x="354.90" y="114.20" font-size="4.8" font-weight="bold" text-anchor="start" fill="#000" stroke="#000" stroke-width="0.15">PKC<tspan font-size="3.4" dy="1">ζ</tspan><tspan dy="-1"> inh. (μM)</tspan></text>
<line x1="393.75" y1="112.90" x2="395.25" y2="112.90" stroke="#555" stroke-width="0.7"/>
<line x1="405.85" y1="112.90" x2="407.35" y2="112.90" stroke="#555" stroke-width="0.7"/>
<line x1="418.05" y1="112.90" x2="419.55" y2="112.90" stroke="#555" stroke-width="0.7"/>
<line x1="430.25" y1="112.90" x2="431.75" y2="112.90" stroke="#555" stroke-width="0.7"/>
<text x="449.50" y="114.20" font-size="4.8" font-weight="bold" text-anchor="middle" fill="#000" stroke="#000" stroke-width="0.15">0.4</text>
<text x="461.90" y="114.20" font-size="4.8" font-weight="bold" text-anchor="middle" fill="#000" stroke="#000" stroke-width="0.15">1</text>
<text x="474.50" y="114.20" font-size="4.8" font-weight="bold" text-anchor="middle" fill="#000" stroke="#000" stroke-width="0.15">2</text>
<text x="487.00" y="114.20" font-size="4.8" font-weight="bold" text-anchor="middle" fill="#000" stroke="#000" stroke-width="0.15">5</text>
<text x="499.50" y="114.20" font-size="4.8" font-weight="bold" text-anchor="middle" fill="#000" stroke="#000" stroke-width="0.15">10</text>
<text x="512.00" y="114.20" font-size="4.8" font-weight="bold" text-anchor="middle" fill="#000" stroke="#000" stroke-width="0.15">20</text>
<line x1="393.00" y1="133.80" x2="393.00" y2="204.80" stroke="#000" stroke-width="1.0"/>
<line x1="390.20" y1="145.50" x2="393.00" y2="145.50" stroke="#000" stroke-width="0.9"/>
<text x="390.30" y="147.10" font-size="4.6" font-weight="bold" text-anchor="end" fill="#000" stroke="#000" stroke-width="0.15">100</text>
<line x1="390.20" y1="160.20" x2="393.00" y2="160.20" stroke="#000" stroke-width="0.9"/>
<text x="390.30" y="161.80" font-size="4.6" font-weight="bold" text-anchor="end" fill="#000" stroke="#000" stroke-width="0.15">75</text>
<line x1="390.20" y1="174.90" x2="393.00" y2="174.90" stroke="#000" stroke-width="0.9"/>
<text x="390.30" y="176.50" font-size="4.6" font-weight="bold" text-anchor="end" fill="#000" stroke="#000" stroke-width="0.15">50</text>
<line x1="390.20" y1="189.60" x2="393.00" y2="189.60" stroke="#000" stroke-width="0.9"/>
<text x="390.30" y="191.20" font-size="4.6" font-weight="bold" text-anchor="end" fill="#000" stroke="#000" stroke-width="0.15">25</text>
<line x1="390.20" y1="204.30" x2="393.00" y2="204.30" stroke="#000" stroke-width="0.9"/>
<text x="390.30" y="205.90" font-size="4.6" font-weight="bold" text-anchor="end" fill="#000" stroke="#000" stroke-width="0.15">0</text>
<line x1="392.60" y1="204.30" x2="518.80" y2="204.30" stroke="#000" stroke-width="0.9"/>
<rect x="409.70" y="202.20" width="6.10" height="2.10" fill="#ececec" stroke="#333" stroke-width="1.0"/>
<rect x="436.20" y="145.90" width="5.90" height="58.40" fill="#ebebeb" stroke="#3a3a3a" stroke-width="1.0"/>
<line x1="458.95" y1="158.00" x2="458.95" y2="152.00" stroke="#000" stroke-width="0.7"/>
<line x1="456.95" y1="152.00" x2="460.95" y2="152.00" stroke="#000" stroke-width="0.7"/>
<rect x="455.80" y="158.40" width="6.30" height="45.90" fill="#6a6a6a" stroke="#000" stroke-width="1.0"/>
<line x1="472.15" y1="149.50" x2="472.15" y2="145.00" stroke="#000" stroke-width="0.7"/>
<line x1="470.15" y1="145.00" x2="474.15" y2="145.00" stroke="#000" stroke-width="0.7"/>
<rect x="469.00" y="149.90" width="6.30" height="54.40" fill="#6a6a6a" stroke="#000" stroke-width="1.0"/>
<line x1="485.40" y1="142.50" x2="485.40" y2="138.30" stroke="#000" stroke-width="0.7"/>
<line x1="483.40" y1="138.30" x2="487.40" y2="138.30" stroke="#000" stroke-width="0.7"/>
<rect x="482.20" y="142.90" width="6.40" height="61.40" fill="#6a6a6a" stroke="#000" stroke-width="1.0"/>
<line x1="498.55" y1="142.50" x2="498.55" y2="139.30" stroke="#000" stroke-width="0.7"/>
<line x1="496.55" y1="139.30" x2="500.55" y2="139.30" stroke="#000" stroke-width="0.7"/>
<rect x="495.40" y="142.90" width="6.30" height="61.40" fill="#6a6a6a" stroke="#000" stroke-width="1.0"/>
<line x1="511.75" y1="151.30" x2="511.75" y2="150.00" stroke="#000" stroke-width="0.7"/>
<line x1="509.75" y1="150.00" x2="513.75" y2="150.00" stroke="#000" stroke-width="0.7"/>
<rect x="508.70" y="151.70" width="6.10" height="52.60" fill="#6a6a6a" stroke="#000" stroke-width="1.0"/>
<text x="373.00" y="168.10" font-size="5.8" font-weight="bold" text-anchor="middle" fill="#2a2a2a" stroke="#2a2a2a" stroke-width="0.04" transform="rotate(-90 373.00 168.10)">% of maximum</text>
<text x="379.60" y="168.90" font-size="5.8" font-weight="bold" text-anchor="middle" fill="#2a2a2a" stroke="#2a2a2a" stroke-width="0.04" transform="rotate(-90 379.60 168.90)">IL-1β release</text>
<text x="354.30" y="214.20" font-size="4.8" font-weight="normal" text-anchor="start" fill="#000" stroke="#000" stroke-width="0.13">simvastatin</text>
<line x1="399.25" y1="212.90" x2="400.75" y2="212.90" stroke="#555" stroke-width="0.7"/>
<line x1="412.05" y1="212.90" x2="413.55" y2="212.90" stroke="#555" stroke-width="0.7"/>
<line x1="424.85" y1="212.50" x2="426.75" y2="212.50" stroke="#000" stroke-width="0.8"/>
<line x1="425.80" y1="211.55" x2="425.80" y2="213.45" stroke="#000" stroke-width="0.8"/>
<line x1="438.05" y1="212.50" x2="439.95" y2="212.50" stroke="#000" stroke-width="0.8"/>
<line x1="439.00" y1="211.55" x2="439.00" y2="213.45" stroke="#000" stroke-width="0.8"/>
<line x1="457.85" y1="212.50" x2="459.75" y2="212.50" stroke="#000" stroke-width="0.8"/>
<line x1="458.80" y1="211.55" x2="458.80" y2="213.45" stroke="#000" stroke-width="0.8"/>
<line x1="471.05" y1="212.50" x2="472.95" y2="212.50" stroke="#000" stroke-width="0.8"/>
<line x1="472.00" y1="211.55" x2="472.00" y2="213.45" stroke="#000" stroke-width="0.8"/>
<line x1="484.45" y1="212.50" x2="486.35" y2="212.50" stroke="#000" stroke-width="0.8"/>
<line x1="485.40" y1="211.55" x2="485.40" y2="213.45" stroke="#000" stroke-width="0.8"/>
<line x1="497.35" y1="212.50" x2="499.25" y2="212.50" stroke="#000" stroke-width="0.8"/>
<line x1="498.30" y1="211.55" x2="498.30" y2="213.45" stroke="#000" stroke-width="0.8"/>
<line x1="510.75" y1="212.50" x2="512.65" y2="212.50" stroke="#000" stroke-width="0.8"/>
<line x1="511.70" y1="211.55" x2="511.70" y2="213.45" stroke="#000" stroke-width="0.8"/>
<text x="354.30" y="223.00" font-size="4.8" font-weight="normal" text-anchor="start" fill="#000" stroke="#000" stroke-width="0.13">LPS</text>
<line x1="399.25" y1="221.70" x2="400.75" y2="221.70" stroke="#555" stroke-width="0.7"/>
<line x1="411.85" y1="221.30" x2="413.75" y2="221.30" stroke="#000" stroke-width="0.8"/>
<line x1="412.80" y1="220.35" x2="412.80" y2="222.25" stroke="#000" stroke-width="0.8"/>
<line x1="425.05" y1="221.70" x2="426.55" y2="221.70" stroke="#555" stroke-width="0.7"/>
<line x1="438.05" y1="221.30" x2="439.95" y2="221.30" stroke="#000" stroke-width="0.8"/>
<line x1="439.00" y1="220.35" x2="439.00" y2="222.25" stroke="#000" stroke-width="0.8"/>
<line x1="457.85" y1="221.30" x2="459.75" y2="221.30" stroke="#000" stroke-width="0.8"/>
<line x1="458.80" y1="220.35" x2="458.80" y2="222.25" stroke="#000" stroke-width="0.8"/>
<line x1="471.05" y1="221.30" x2="472.95" y2="221.30" stroke="#000" stroke-width="0.8"/>
<line x1="472.00" y1="220.35" x2="472.00" y2="222.25" stroke="#000" stroke-width="0.8"/>
<line x1="484.45" y1="221.30" x2="486.35" y2="221.30" stroke="#000" stroke-width="0.8"/>
<line x1="485.40" y1="220.35" x2="485.40" y2="222.25" stroke="#000" stroke-width="0.8"/>
<line x1="497.35" y1="221.30" x2="499.25" y2="221.30" stroke="#000" stroke-width="0.8"/>
<line x1="498.30" y1="220.35" x2="498.30" y2="222.25" stroke="#000" stroke-width="0.8"/>
<line x1="510.75" y1="221.30" x2="512.65" y2="221.30" stroke="#000" stroke-width="0.8"/>
<line x1="511.70" y1="220.35" x2="511.70" y2="222.25" stroke="#000" stroke-width="0.8"/>
<text x="354.30" y="231.70" font-size="4.8" font-weight="normal" text-anchor="start" fill="#000" stroke="#000" stroke-width="0.13">rapamycin (ng/ml)</text>
<line x1="399.25" y1="230.40" x2="400.75" y2="230.40" stroke="#555" stroke-width="0.7"/>
<line x1="412.05" y1="230.40" x2="413.55" y2="230.40" stroke="#555" stroke-width="0.7"/>
<line x1="425.05" y1="230.40" x2="426.55" y2="230.40" stroke="#555" stroke-width="0.7"/>
<line x1="438.25" y1="230.40" x2="439.75" y2="230.40" stroke="#555" stroke-width="0.7"/>
<text x="458.80" y="231.40" font-size="4.5" font-weight="normal" text-anchor="middle" fill="#000" stroke="#000" stroke-width="0.13">1</text>
<text x="472.00" y="231.40" font-size="4.5" font-weight="normal" text-anchor="middle" fill="#000" stroke="#000" stroke-width="0.13">4</text>
<text x="485.40" y="231.40" font-size="4.5" font-weight="normal" text-anchor="middle" fill="#000" stroke="#000" stroke-width="0.13">10</text>
<text x="498.30" y="231.40" font-size="4.5" font-weight="normal" text-anchor="middle" fill="#000" stroke="#000" stroke-width="0.13">20</text>
<text x="511.70" y="231.40" font-size="4.5" font-weight="normal" text-anchor="middle" fill="#000" stroke="#000" stroke-width="0.13">40</text>
<line x1="44.80" y1="255.20" x2="44.80" y2="328.10" stroke="#000" stroke-width="1.0"/>
<line x1="42.00" y1="255.50" x2="44.80" y2="255.50" stroke="#000" stroke-width="0.9"/>
<text x="42.10" y="257.10" font-size="4.6" font-weight="bold" text-anchor="end" fill="#000" stroke="#000" stroke-width="0.15">70</text>
<line x1="42.00" y1="265.80" x2="44.80" y2="265.80" stroke="#000" stroke-width="0.9"/>
<text x="42.10" y="267.40" font-size="4.6" font-weight="bold" text-anchor="end" fill="#000" stroke="#000" stroke-width="0.15">60</text>
<line x1="42.00" y1="276.10" x2="44.80" y2="276.10" stroke="#000" stroke-width="0.9"/>
<text x="42.10" y="277.70" font-size="4.6" font-weight="bold" text-anchor="end" fill="#000" stroke="#000" stroke-width="0.15">50</text>
<line x1="42.00" y1="286.40" x2="44.80" y2="286.40" stroke="#000" stroke-width="0.9"/>
<text x="42.10" y="288.00" font-size="4.6" font-weight="bold" text-anchor="end" fill="#000" stroke="#000" stroke-width="0.15">40</text>
<line x1="42.00" y1="296.70" x2="44.80" y2="296.70" stroke="#000" stroke-width="0.9"/>
<text x="42.10" y="298.30" font-size="4.6" font-weight="bold" text-anchor="end" fill="#000" stroke="#000" stroke-width="0.15">30</text>
<line x1="42.00" y1="307.00" x2="44.80" y2="307.00" stroke="#000" stroke-width="0.9"/>
<text x="42.10" y="308.60" font-size="4.6" font-weight="bold" text-anchor="end" fill="#000" stroke="#000" stroke-width="0.15">20</text>
<line x1="42.00" y1="317.30" x2="44.80" y2="317.30" stroke="#000" stroke-width="0.9"/>
<text x="42.10" y="318.90" font-size="4.6" font-weight="bold" text-anchor="end" fill="#000" stroke="#000" stroke-width="0.15">10</text>
<line x1="42.00" y1="327.60" x2="44.80" y2="327.60" stroke="#000" stroke-width="0.9"/>
<text x="42.10" y="329.20" font-size="4.6" font-weight="bold" text-anchor="end" fill="#000" stroke="#000" stroke-width="0.15">0</text>
<line x1="44.30" y1="327.60" x2="152.80" y2="327.60" stroke="#000" stroke-width="1.1"/>
<rect x="47.40" y="324.40" width="4.70" height="3.20" fill="#fff" stroke="#000" stroke-width="1.0"/>
<rect x="52.90" y="267.30" width="4.90" height="60.30" fill="#707070" stroke="#000" stroke-width="1.0"/>
<rect x="62.70" y="323.50" width="4.70" height="4.10" fill="#fff" stroke="#000" stroke-width="1.0"/>
<rect x="68.20" y="262.30" width="4.90" height="65.30" fill="#707070" stroke="#000" stroke-width="1.0"/>
<rect x="78.00" y="323.90" width="4.70" height="3.70" fill="#fff" stroke="#000" stroke-width="1.0"/>
<line x1="85.95" y1="264.30" x2="85.95" y2="262.00" stroke="#000" stroke-width="0.7"/>
<line x1="84.45" y1="262.00" x2="87.45" y2="262.00" stroke="#000" stroke-width="0.7"/>
<rect x="83.50" y="264.70" width="4.90" height="62.90" fill="#707070" stroke="#000" stroke-width="1.0"/>
<rect x="93.30" y="323.90" width="4.70" height="3.70" fill="#fff" stroke="#000" stroke-width="1.0"/>
<line x1="101.25" y1="267.80" x2="101.25" y2="262.60" stroke="#000" stroke-width="0.7"/>
<line x1="99.75" y1="262.60" x2="102.75" y2="262.60" stroke="#000" stroke-width="0.7"/>
<rect x="98.80" y="268.20" width="4.90" height="59.40" fill="#707070" stroke="#000" stroke-width="1.0"/>
<rect x="108.60" y="324.80" width="4.70" height="2.80" fill="#fff" stroke="#000" stroke-width="1.0"/>
<line x1="116.55" y1="274.40" x2="116.55" y2="270.50" stroke="#000" stroke-width="0.7"/>
<line x1="115.05" y1="270.50" x2="118.05" y2="270.50" stroke="#000" stroke-width="0.7"/>
<rect x="114.10" y="274.80" width="4.90" height="52.80" fill="#707070" stroke="#000" stroke-width="1.0"/>
<rect x="123.90" y="325.30" width="4.70" height="2.30" fill="#fff" stroke="#000" stroke-width="1.0"/>
<line x1="131.85" y1="279.70" x2="131.85" y2="277.30" stroke="#000" stroke-width="0.7"/>
<line x1="130.35" y1="277.30" x2="133.35" y2="277.30" stroke="#000" stroke-width="0.7"/>
<rect x="129.40" y="280.10" width="4.90" height="47.50" fill="#707070" stroke="#000" stroke-width="1.0"/>
<rect x="139.20" y="324.20" width="4.70" height="3.40" fill="#fff" stroke="#000" stroke-width="1.0"/>
<line x1="147.15" y1="283.50" x2="147.15" y2="281.20" stroke="#000" stroke-width="0.7"/>
<line x1="145.65" y1="281.20" x2="148.65" y2="281.20" stroke="#000" stroke-width="0.7"/>
<rect x="144.70" y="283.90" width="4.90" height="43.70" fill="#707070" stroke="#000" stroke-width="1.0"/>
<text x="27.60" y="291.00" font-size="6.0" font-weight="bold" text-anchor="middle" fill="#333" stroke="#333" stroke-width="0.04" transform="rotate(-90 27.60 291.00)">IL-1β release</text>
<text x="34.00" y="291.00" font-size="6.0" font-weight="bold" text-anchor="middle" fill="#333" stroke="#333" stroke-width="0.04" transform="rotate(-90 34.00 291.00)">(pg/mL)</text>
<text x="6.20" y="338.40" font-size="4.8" font-weight="bold" text-anchor="start" fill="#000" stroke="#000" stroke-width="0.15">SB216763 (μM)</text>
<text x="52.00" y="338.40" font-size="4.8" font-weight="bold" text-anchor="middle" fill="#000" stroke="#000" stroke-width="0.15">0</text>
<text x="66.30" y="338.40" font-size="4.8" font-weight="bold" text-anchor="middle" fill="#000" stroke="#000" stroke-width="0.15">0.5</text>
<text x="82.50" y="338.40" font-size="4.8" font-weight="bold" text-anchor="middle" fill="#000" stroke="#000" stroke-width="0.15">2</text>
<text x="97.20" y="338.40" font-size="4.8" font-weight="bold" text-anchor="middle" fill="#000" stroke="#000" stroke-width="0.15">5</text>
<text x="111.90" y="338.40" font-size="4.8" font-weight="bold" text-anchor="middle" fill="#000" stroke="#000" stroke-width="0.15">10</text>
<text x="127.50" y="338.40" font-size="4.8" font-weight="bold" text-anchor="middle" fill="#000" stroke="#000" stroke-width="0.15">20</text>
<text x="142.80" y="338.40" font-size="4.8" font-weight="bold" text-anchor="middle" fill="#000" stroke="#000" stroke-width="0.15">40</text>
<rect x="126.80" y="261.70" width="7.20" height="2.50" fill="#fff" stroke="#000" stroke-width="1.0"/>
<rect x="126.80" y="267.40" width="7.20" height="2.60" fill="#707070" stroke="#000" stroke-width="1.0"/>
<text x="138.00" y="264.50" font-size="5.7" font-weight="normal" text-anchor="start" fill="#222" stroke="#222" stroke-width="0.13">- LPS</text>
<text x="138.00" y="270.50" font-size="5.7" font-weight="normal" text-anchor="start" fill="#222" stroke="#222" stroke-width="0.13">+ LPS</text>
<rect x="383.98" y="272.28" width="9.84" height="3.82" fill="#fff" stroke="#000" stroke-width="1.2"/>
<rect x="383.98" y="283.58" width="9.84" height="3.92" fill="#777" stroke="#000" stroke-width="1.2"/>
<rect x="383.98" y="294.78" width="9.84" height="3.92" fill="#0a0a0a" stroke="#000" stroke-width="1.2"/>
<text x="398.0" y="277.5" font-size="8.5" fill="#111" stroke="#111" stroke-width="0.12" textLength="38.4" lengthAdjust="spacingAndGlyphs">no inhibitor</text>
<text x="398.0" y="289.0" font-size="8.5" fill="#111" stroke="#111" stroke-width="0.12" textLength="59.0" lengthAdjust="spacingAndGlyphs">inh. before statin</text>
<text x="398.0" y="300.2" font-size="8.5" fill="#111" stroke="#111" stroke-width="0.12" textLength="55.6" lengthAdjust="spacingAndGlyphs">inh. before LPS</text>
</svg>
</body></html>
